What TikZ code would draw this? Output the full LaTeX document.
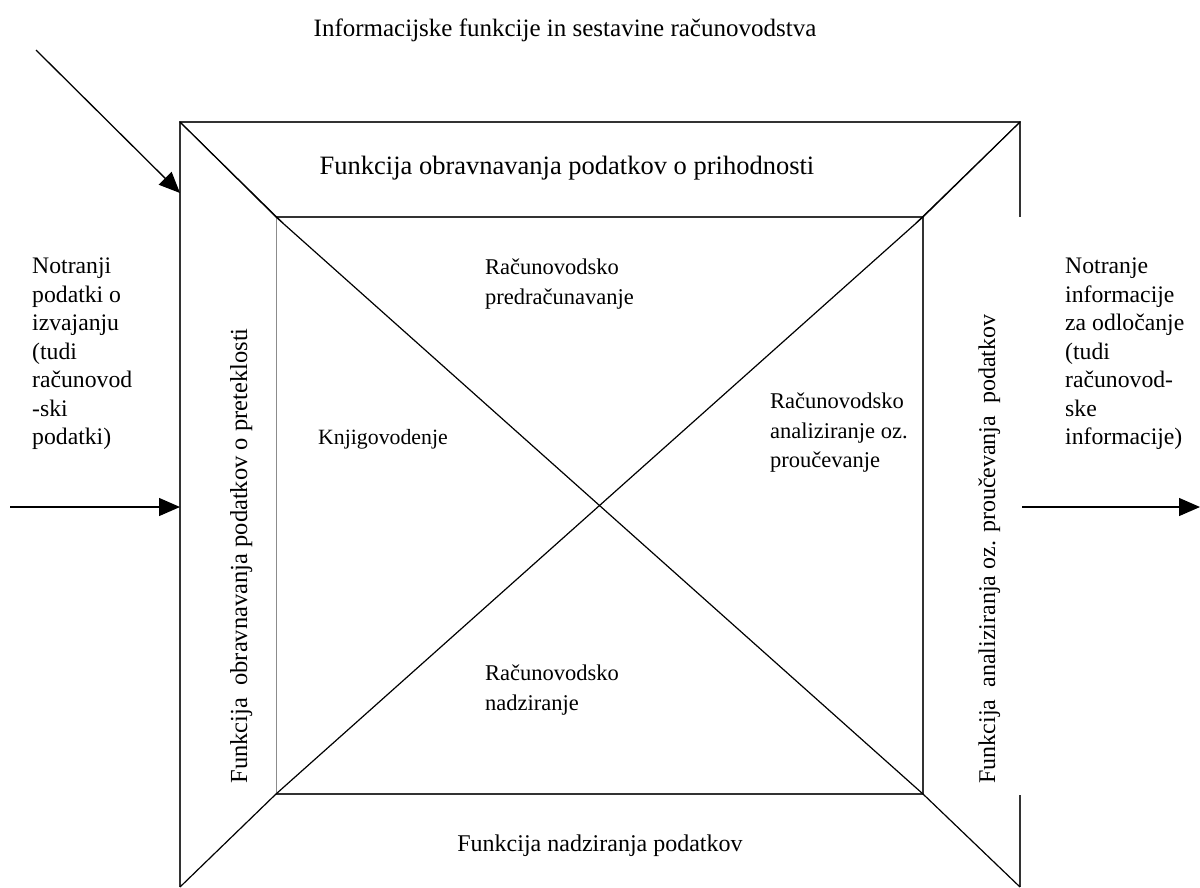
\documentclass[tikz,border=0pt]{standalone}
\usepackage{fontspec}
\setmainfont{Liberation Serif}
\usetikzlibrary{arrows.meta}
\tikzset{
  frame/.style={draw=black!80, line width=1.4pt},
  thin/.style={draw=black!45, line width=0.8pt},
  diag/.style={draw=black, line width=1.2pt},
  arr/.style={draw=black, line width=1.3pt, -{Triangle[length=21pt,width=18pt]}},
  lbl/.style={inner sep=0pt},
  inner/.style={inner sep=0pt, align=left, anchor=north west, font=\fontsize{22.5}{29.3}\selectfont},
  side/.style={inner sep=0pt, align=left, anchor=north west, font=\fontsize{23.7}{28.5}\selectfont},
}
\begin{document}
\begin{tikzpicture}[x=1pt,y=-1pt]
\useasboundingbox (0,0) rectangle (1200,887);
% outer frame corners
\coordinate (OTL) at (180,122);
\coordinate (OTR) at (1020,122);
\coordinate (OBL) at (180,887);
\coordinate (OBR) at (1020,887);
\coordinate (ORa) at (1020,217);
\coordinate (ORb) at (1020,795);
% inner square corners
\coordinate (ITL) at (276,217);
\coordinate (ITR) at (923,217);
\coordinate (IBL) at (276,794);
\coordinate (IBR) at (923,794);
\coordinate (ITLx) at (283,223);
\coordinate (ITRx) at (916,223);
% outer frame
\draw[frame] (OBL) -- (OTL) -- (OTR) -- (ORa);
\draw[frame] (ORb) -- (OBR);
% inner square
\draw[frame] (IBL) -- (IBR) -- (ITR) -- (ITL);
\draw[thin] (ITL) -- (IBL);
% diagonals
\draw[diag] (OTL) -- (ITL) -- (IBR) -- (OBR);
\draw[diag] (OTR) -- (ITR) -- (IBL) -- (OBL);
\draw[diag, line width=0.9pt] (OTL) -- (ITLx);
\draw[diag, line width=0.9pt] (OTR) -- (ITRx);
% arrows
\coordinate (A1s) at (36,50);
\coordinate (A1e) at (180,193);
\coordinate (A2s) at (10,507);
\coordinate (A2e) at (180,507);
\coordinate (A3s) at (1022,507);
\coordinate (A3e) at (1200,507);
\draw[arr] (A1s) -- (A1e);
\draw[arr] (A2s) -- (A2e);
\draw[arr] (A3s) -- (A3e);
% labels
\node[lbl, font=\fontsize{25}{30}\selectfont, anchor=base] (title) at (565,36) {Informacijske funkcije in sestavine računovodstva};
\node[lbl, font=\fontsize{26.5}{32}\selectfont, anchor=base] (top) at (567,174) {Funkcija obravnavanja podatkov o prihodnosti};
\node[lbl, font=\fontsize{24}{30}\selectfont, anchor=base] (bottom) at (600,851) {Funkcija nadziranja podatkov};
\node[lbl, font=\fontsize{24.5}{30}\selectfont, rotate=90, anchor=base] (left) at (247,556) {Funkcija\ \ obravnavanja podatkov o preteklosti};
\node[lbl, font=\fontsize{24}{30}\selectfont, rotate=90, anchor=base] (right) at (995,549) {Funkcija\ \ analiziranja oz. proučevanja\ \ podatkov};
\node[inner] (pred) at (485,259) {Računovodsko\\predračunavanje};
\node[lbl, font=\fontsize{21.8}{29}\selectfont, anchor=base west] (knj) at (318,444) {Knjigovodenje};
\node[inner] (anal) at (770,393) {Računovodsko\\analiziranje oz.\\proučevanje};
\node[inner] (nadz) at (485,665) {Računovodsko\\nadziranje};
\node[side] (inL) at (32,258) {Notranji\\podatki o\\izvajanju\\(tudi\\računovod\\-ski\\podatki)};
\node[side] (outR) at (1065,258) {Notranje\\informacije\\za odločanje\\(tudi\\računovod-\\ske\\informacije)};
\end{tikzpicture}
\end{document}
